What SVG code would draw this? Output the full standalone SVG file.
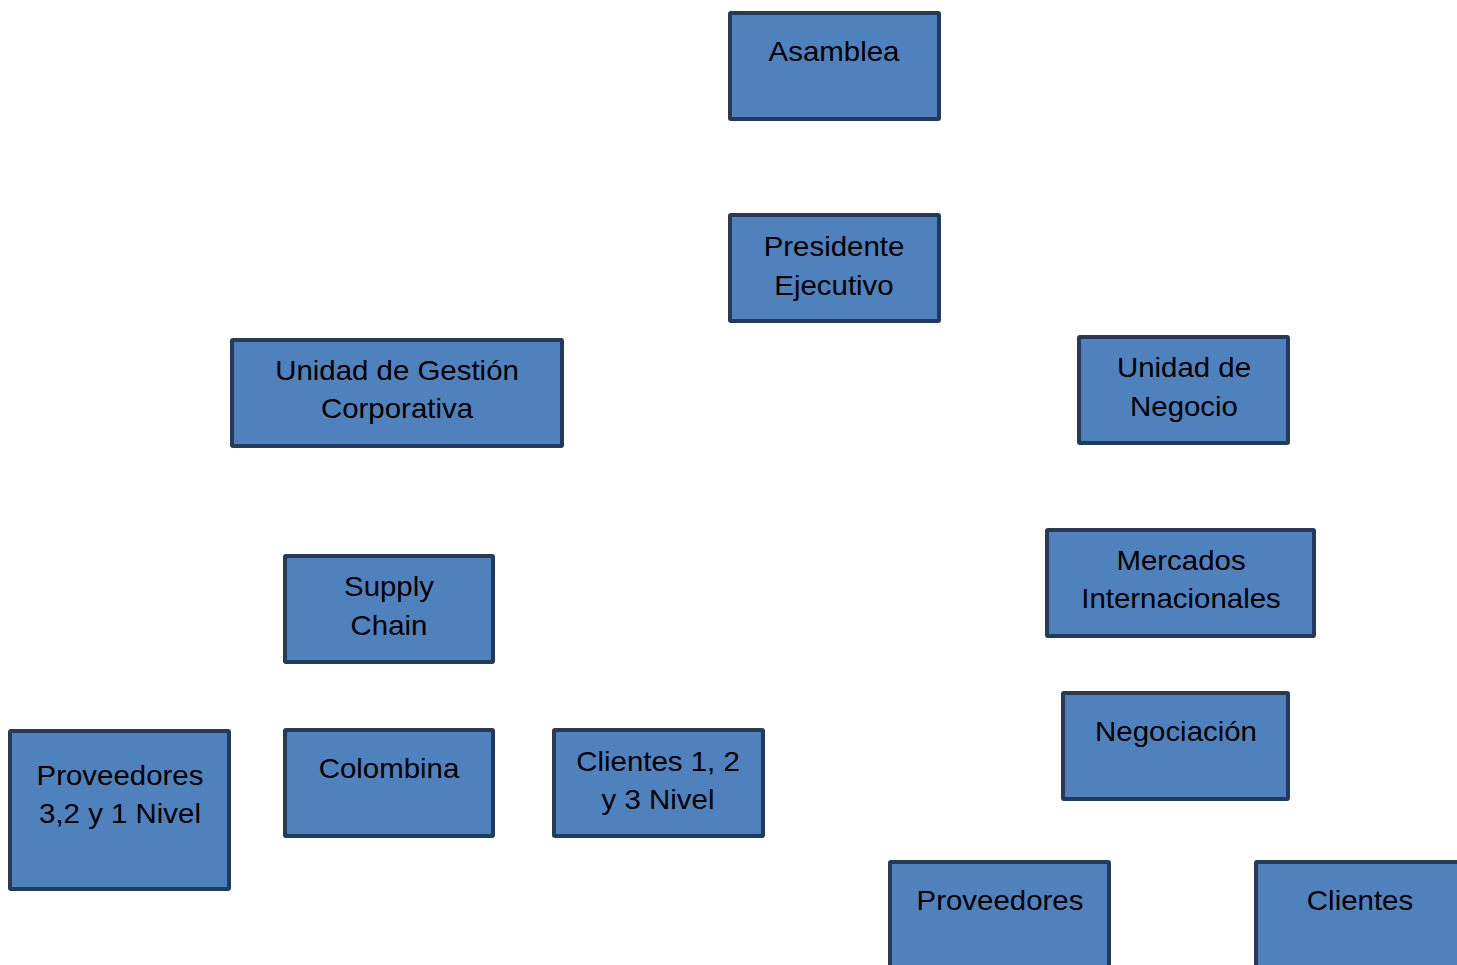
<svg xmlns="http://www.w3.org/2000/svg" width="1457" height="965" viewBox="0 0 1457 965">
  <style>
    .box { fill: #4f81bd; stroke: #243a56; stroke-width: 4; }
    .lbl { font-family: "Liberation Sans", Arial, sans-serif; font-size: 27px; fill: #000; text-anchor: middle; }
  </style>
  <rect width="1457" height="965" fill="#fff"/>
  <g id="connectors"></g>
  <!-- each label group is centred on its box and widened slightly -->
  <g id="asamblea">
    <rect class="box" x="730" y="13" width="209" height="106" rx="1"/>
    <g transform="translate(834 0) scale(1.09 1)"><text class="lbl" x="0" y="61">Asamblea</text></g>
  </g>
  <g id="presidente">
    <rect class="box" x="730" y="215" width="209" height="106" rx="1"/>
    <g transform="translate(834 0) scale(1.09 1)">
      <text class="lbl" x="0" y="256">Presidente</text>
      <text class="lbl" x="0" y="295">Ejecutivo</text>
    </g>
  </g>
  <g id="gestion">
    <rect class="box" x="232" y="340" width="330" height="106" rx="1"/>
    <g transform="translate(397 0) scale(1.09 1)">
      <text class="lbl" x="0" y="380">Unidad de Gestión</text>
      <text class="lbl" x="0" y="418">Corporativa</text>
    </g>
  </g>
  <g id="negocio">
    <rect class="box" x="1079" y="337" width="209" height="106" rx="1"/>
    <g transform="translate(1184 0) scale(1.09 1)">
      <text class="lbl" x="0" y="377">Unidad de</text>
      <text class="lbl" x="0" y="416">Negocio</text>
    </g>
  </g>
  <g id="supply">
    <rect class="box" x="285" y="556" width="208" height="106" rx="1"/>
    <g transform="translate(389 0) scale(1.09 1)">
      <text class="lbl" x="0" y="596">Supply</text>
      <text class="lbl" x="0" y="635">Chain</text>
    </g>
  </g>
  <g id="mercados">
    <rect class="box" x="1047" y="530" width="267" height="106" rx="1"/>
    <g transform="translate(1181 0) scale(1.09 1)">
      <text class="lbl" x="0" y="570">Mercados</text>
      <text class="lbl" x="0" y="608">Internacionales</text>
    </g>
  </g>
  <g id="negociacion">
    <rect class="box" x="1063" y="693" width="225" height="106" rx="1"/>
    <g transform="translate(1176 0) scale(1.09 1)"><text class="lbl" x="0" y="741">Negociación</text></g>
  </g>
  <g id="proveedores-nivel">
    <rect class="box" x="10" y="731" width="219" height="158" rx="1"/>
    <g transform="translate(120 0) scale(1.09 1)">
      <text class="lbl" x="0" y="785">Proveedores</text>
      <text class="lbl" x="0" y="823">3,2 y 1 Nivel</text>
    </g>
  </g>
  <g id="colombina">
    <rect class="box" x="285" y="730" width="208" height="106" rx="1"/>
    <g transform="translate(389 0) scale(1.09 1)"><text class="lbl" x="0" y="778">Colombina</text></g>
  </g>
  <g id="clientes-nivel">
    <rect class="box" x="554" y="730" width="209" height="106" rx="1"/>
    <g transform="translate(658 0) scale(1.09 1)">
      <text class="lbl" x="0" y="771">Clientes 1, 2</text>
      <text class="lbl" x="0" y="809">y 3 Nivel</text>
    </g>
  </g>
  <g id="proveedores">
    <rect class="box" x="890" y="862" width="219" height="130" rx="1"/>
    <g transform="translate(1000 0) scale(1.09 1)"><text class="lbl" x="0" y="910">Proveedores</text></g>
  </g>
  <g id="clientes">
    <rect class="box" x="1256" y="862" width="230" height="130" rx="1"/>
    <g transform="translate(1360 0) scale(1.09 1)"><text class="lbl" x="0" y="910">Clientes</text></g>
  </g>
</svg>
